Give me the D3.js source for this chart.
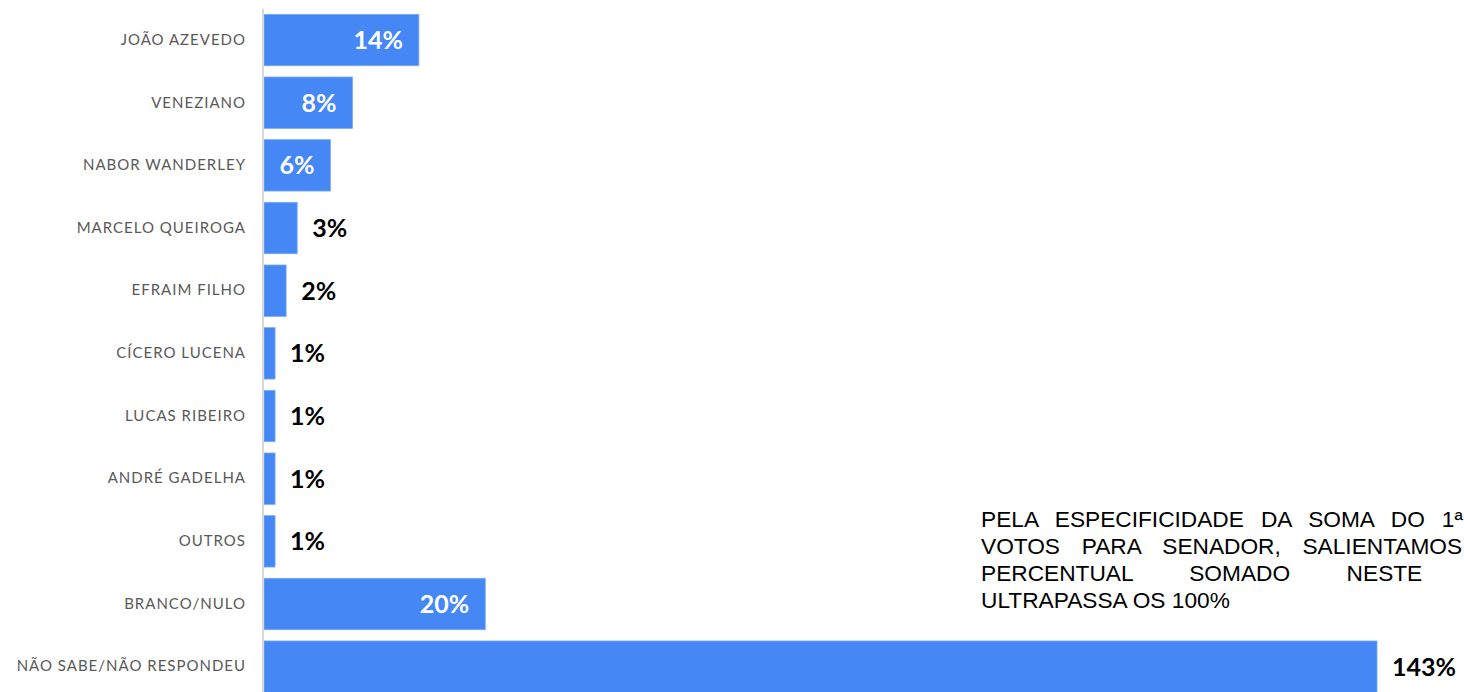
<!DOCTYPE html>
<html>
<head>
<meta charset="utf-8">
<script src="https://cdn.jsdelivr.net/npm/d3@7"></script>
<style>
  html, body { margin: 0; padding: 0; background: #fff; overflow: hidden; width: 1464px; height: 692px; }
  #wrap { position: relative; width: 1464px; height: 692px; overflow: hidden; }
  svg { position: absolute; left: 0; top: 0; }
  #note {
    position: absolute; left: 981px; top: 505.6px; width: 552px;
    font-family: "Liberation Sans", Arial, sans-serif; font-size: 22.7px; line-height: 27px;
    color: #000; text-align: justify; white-space: normal;
  }
</style>
</head>
<body>
<div id="wrap">
  <svg id="chart" width="1464" height="692"></svg>
  <div id="note"></div>
</div>
<script>
const categories = [
  "JOÃO AZEVEDO", "VENEZIANO", "NABOR WANDERLEY", "MARCELO QUEIROGA", "EFRAIM FILHO",
  "CÍCERO LUCENA", "LUCAS RIBEIRO", "ANDRÉ GADELHA", "OUTROS", "BRANCO/NULO",
  "NÃO SABE/NÃO RESPONDEU"
];
const values = [14, 8, 6, 3, 2, 1, 1, 1, 1, 20, 143];
const valueLabels = ["14%", "8%", "6%", "3%", "2%", "1%", "1%", "1%", "1%", "20%", "143%"];
const noteText = "PELA ESPECIFICIDADE DA SOMA DO 1ª E 2ª VOTOS PARA SENADOR, SALIENTAMOS QUE PERCENTUAL SOMADO NESTE ITEM ULTRAPASSA OS 100%";

const data = categories.map((c, i) => ({ cat: c, v: values[i], label: valueLabels[i] }));

const svg = d3.select("#chart");
const x0 = 264, xRight = 1377;
const xMax = 100.6;
const x = d3.scaleLinear().domain([0, xMax]).range([x0, xRight]).clamp(true);
const y = d3.scaleBand().domain(categories).range([8.7, 698]).paddingInner(0.18).paddingOuter(0.09);

// bars
svg.append("g").selectAll("rect").data(data).join("rect")
  .attr("x", x(0))
  .attr("y", d => y(d.cat))
  .attr("width", d => x(d.v) - x(0))
  .attr("height", y.bandwidth())
  .attr("fill", "#4487f5")
  .attr("stroke", "#7aa9f7")
  .attr("stroke-width", 0.8);

// axis line (category axis)
const yAxis = d3.axisLeft(y).tickSize(0).tickPadding(17);
const gAxis = svg.append("g").attr("transform", `translate(${x0 - 1},0)`).call(yAxis);
gAxis.select(".domain").attr("stroke", "#d9d9d9").attr("stroke-width", 2).attr("d", `M0,${y.range()[0]}V692`);
gAxis.selectAll(".tick text")
  .attr("fill", "#595959")
  .style("font-family", "Lato, 'Open Sans', sans-serif")
  .style("font-size", "15px")
  .style("letter-spacing", "1px");

// value labels
const insideOK = d => d.v <= xMax && (x(d.v) - x(0)) >= 60;
svg.append("g").selectAll("text").data(data).join("text")
  .attr("x", d => insideOK(d) ? x(d.v) - 16 : x(d.v) + 15)
  .attr("y", d => y(d.cat) + y.bandwidth() / 2)
  .attr("dy", "0.36em")
  .attr("text-anchor", d => insideOK(d) ? "end" : "start")
  .attr("fill", d => insideOK(d) ? "#ffffff" : "#000000")
  .style("font-family", "Lato, 'Open Sans', sans-serif")
  .style("font-weight", "bold")
  .style("font-size", "25px")
  .text(d => d.label);

d3.select("#note").text(noteText);
</script>
</body>
</html>
